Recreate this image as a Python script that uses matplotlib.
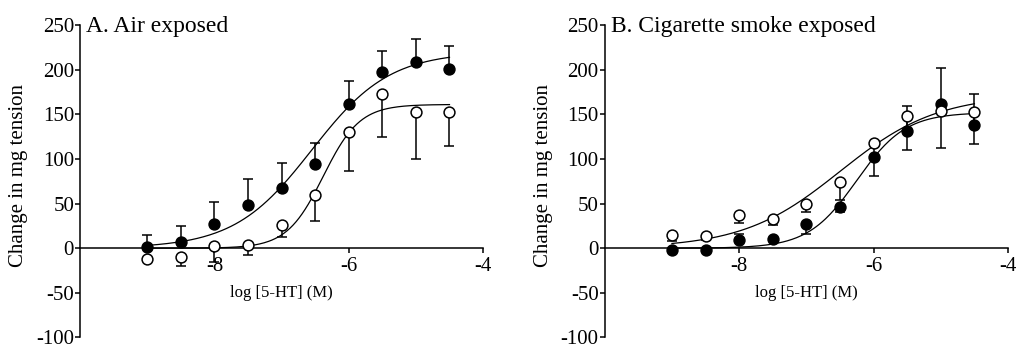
import numpy as np
import matplotlib.pyplot as plt

plt.rcParams['font.family'] = ['Liberation Serif', 'DejaVu Serif']
plt.rcParams['axes.unicode_minus'] = False

# log [5-HT] (M) concentrations
log_conc = [-9, -8.5, -8, -7.5, -7, -6.5, -6, -5.5, -5, -4.5]

# A. Air exposed
a_filled = [1.5, 7, 27, 48, 67, 94, 161, 197, 208, 201]
a_filled_lo = [0, 0, 0, 0, 0, 0, 0, 0, 0, 0]
a_filled_hi = [13, 18, 25, 30, 28, 24, 26, 24, 26, 25]
a_open = [-12, -10, 3, 4, 26, 60, 130, 173, 153, 153]
a_open_lo = [0, 10, 18, 12, 14, 29, 43, 49, 53, 38]
a_open_hi = [0, 0, 0, 0, 0, 0, 0, 0, 0, 0]

# B. Cigarette smoke exposed
b_filled = [-2.2, -2.5, 9, 10.8, 27.5, 46, 101.6, 131.4, 161, 137.7]
b_filled_lo = [0, 0, 0, 0, 11.5, 5.5, 21, 0, 0, 0]
b_filled_hi = [0, 0, 6.6, 0, 0, 0, 16, 27.6, 41, 35.3]
b_open = [14.5, 13.7, 37.5, 32.3, 50, 74.6, 117.6, 148, 153.7, 153]
b_open_lo = [6.7, 4.7, 9.5, 6.7, 9.5, 21, 0, 38, 41.7, 36]
b_open_hi = [0, 0, 0, 0, 0, 0, 0, 0, 0, 0]

# sigmoidal fits: top, logEC50, hill slope
a_filled_fit = [220, -6.55, 0.75]
a_open_fit = [161, -6.38, 1.6]
b_filled_fit = [152, -6.25, 1.2]
b_open_fit = [172, -6.5, 0.6]


def sigmoid(x, top, logec50, hill):
    return top / (1 + 10 ** (hill * (logec50 - x)))


def draw_errors(ax, y, lo, hi):
    x = np.array(log_conc)
    y = np.array(y)
    lo = np.array(lo)
    hi = np.array(hi)
    keep = (lo > 0) | (hi > 0)
    ax.errorbar(x[keep], y[keep], yerr=[lo[keep], hi[keep]], fmt='none',
                ecolor='black', elinewidth=1.1, capsize=3.8, capthick=1.1,
                zorder=2)


def draw_panel(ax, title, filled, f_lo, f_hi, f_fit, open_, o_lo, o_hi, o_fit):
    draw_errors(ax, filled, f_lo, f_hi)
    draw_errors(ax, open_, o_lo, o_hi)

    xs = np.linspace(log_conc[0], log_conc[-1], 200)
    ax.plot(xs, sigmoid(xs, *f_fit), color='black', lw=0.9, zorder=3)
    ax.plot(xs, sigmoid(xs, *o_fit), color='black', lw=0.9, zorder=3)

    ax.plot(log_conc, filled, 'o', ms=7.8, mfc='black', mec='black',
            mew=1.1, zorder=4)
    ax.plot(log_conc, open_, 'o', ms=7.8, mfc='white', mec='black',
            mew=1.1, zorder=5)

    ax.set_xlim(-10, -4)
    ax.set_ylim(-100, 250)
    ax.set_xticks([-8, -6, -4])
    ax.set_yticks(np.arange(-100, 251, 50))

    ax.spines['top'].set_visible(False)
    ax.spines['right'].set_visible(False)
    ax.spines['bottom'].set_position(('data', 0))
    ax.spines['left'].set_linewidth(1.1)
    ax.spines['bottom'].set_linewidth(1.1)

    ax.tick_params(axis='y', direction='out', length=3.5, width=1.1,
                   pad=0.8, labelsize=15)
    ax.tick_params(axis='x', direction='out', length=3.5, width=1.1,
                   pad=3, labelsize=15)

    ax.set_ylabel('Change in mg tension', fontsize=15)
    ax.yaxis.set_label_coords(-0.129, 0.517)
    ax.set_xlabel('log [5-HT] (M)', fontsize=12)
    ax.xaxis.label.set_va('center')
    ax.xaxis.set_label_coords(0.5, 0.1415)

    ax.text(0.015, 0.979, title, transform=ax.transAxes, fontsize=17,
            ha='left', va='baseline')


fig = plt.figure(figsize=(10.17, 3.47), dpi=100)
ax_a = fig.add_axes([0.0787, 0.0274, 0.3963, 0.9006])
ax_b = fig.add_axes([0.5946, 0.0274, 0.3966, 0.9006])

draw_panel(ax_a, 'A. Air exposed', a_filled, a_filled_lo, a_filled_hi,
           a_filled_fit, a_open, a_open_lo, a_open_hi, a_open_fit)
draw_panel(ax_b, 'B. Cigarette smoke exposed', b_filled, b_filled_lo,
           b_filled_hi, b_filled_fit, b_open, b_open_lo, b_open_hi, b_open_fit)

fig.savefig('out.png', dpi=100)
